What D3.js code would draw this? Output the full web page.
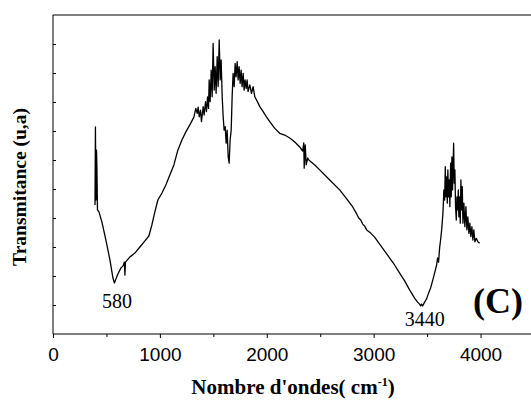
<html>
<head>
	<meta charset="utf-8">
	<title>IR spectrum (C)</title>
</head>

<style>
body{ margin:0; background:#fff; }
.frame{ fill:none; stroke:#000; stroke-width:1px; }
.spectre{ fill:none; stroke:#000; stroke-width:1.3px; stroke-linejoin:round; }
.tick-label{ font-family:"Liberation Sans", Arial, sans-serif; font-size:19px; }
.axis-title{ font-family:"Liberation Serif", "Times New Roman", serif; font-weight:bold; }
.pic{ font-family:"Liberation Serif", "Times New Roman", serif; font-size:20px; }
</style>

<body>

<script src="https://cdn.jsdelivr.net/npm/d3@7"></script>
<script>

var width = 531;
var height = 401;

// nombre d'ondes (cm-1)
var wn = [393,397,402,407,411,416,430,458,495,533,561,575,589,607,636,654,668,673,678,720,766,813,860,897,925,953,981,1019,1056,1093,1131,1168,1206,1243,1280,1318,
	1336,1349,1358,1368,1380,1389,1405,1414,1427,1436,1446,1455,1461,1470,1480,1489,1498,1508,1517,1526,1536,1545,1555,1564,1573,1583,1592,1601,1611,1620,1629,1639,1648,1657,1667,1676,1685,1695,1704,1713,1723,1732,1741,1751,1760,1769,1779,1788,1797,1807,1816,1825,1841,1857,1872,1888,1904,1919,1935,1966,1997,2028,2075,2121,
	2168,2215,2262,2308,2336,2346,2350,2360,2369,2383,2393,2449,2495,2589,2682,2748,2804,2841,2860,2879,2897,2916,2935,2972,3009,3056,3103,3150,3196,3243,3290,3336,3383,3411,3430,3439,3449,3458,3477,3495,3514,3533,3551,3570,3589,3598,3607,3617,3626,3636,
	3648,3657,3664,3670,3676,3682,3689,3694,3701,3707,3713,3720,3726,3732,3738,3748,3754,3760,3766,3773,3779,3785,3792,3797,3804,3810,3816,3822,3829,3835,3844,3853,3863,3872,3881,3891,3900,3909,3919,3928,3937,3947,3960,3975,3991];

// transmittance (u.a)
var trans = [4.45,7.14,4.62,6.34,5.72,4.28,4.21,3.86,3.24,2.55,1.93,1.76,1.90,2.07,2.28,2.34,2.48,2.03,2.48,2.66,2.79,3.00,3.21,3.38,3.76,4.21,4.62,4.86,5.14,5.48,5.83,6.34,6.69,6.97,7.21,7.48,
	7.78,7.61,7.82,7.49,7.72,7.32,7.84,7.55,8.01,7.67,8.18,7.78,8.76,8.01,9.10,8.18,10.02,8.41,9.22,8.30,9.56,8.53,10.14,8.76,9.45,8.18,7.49,7.03,7.15,6.58,7.03,6.11,5.89,6.69,7.03,8.18,8.99,8.53,9.33,8.87,9.39,8.76,9.22,8.64,9.10,8.53,8.99,8.41,8.76,8.47,8.76,8.36,8.59,8.30,8.53,8.18,8.07,7.96,7.84,7.67,7.49,7.32,7.09,6.92,
	6.86,6.76,6.62,6.45,6.31,6.59,5.72,6.52,5.83,6.07,6.00,5.83,5.66,5.31,4.97,4.66,4.38,4.14,4.00,3.93,3.79,3.72,3.59,3.48,3.34,3.10,2.86,2.62,2.38,2.10,1.83,1.52,1.24,1.10,1.03,0.97,1.03,0.97,1.10,1.21,1.41,1.59,1.83,2.10,2.38,2.62,2.48,2.97,3.24,3.59,
	4.16,4.97,4.62,5.77,4.73,5.42,4.51,5.66,4.73,5.31,4.39,5.89,4.73,6.11,4.97,6.58,5.20,5.66,4.39,3.93,4.73,4.28,4.97,4.04,4.73,3.82,5.31,4.28,5.08,3.82,4.51,3.70,4.39,3.59,4.04,3.47,3.82,3.36,3.70,3.24,3.59,3.18,3.30,3.18,3.13];

var xTicks = [0, 1000, 2000, 3000, 4000];
var xMinor = [500, 1500, 2500, 3500];
var yTicks = [1, 2, 3, 4, 5, 6, 7, 8, 9, 10];
var picLabels = ["580", "3440"];
var picPos = [580, 3440];

var padding = {left:53, right:-3, top:15, bottom:67};

var svg = d3.select("body").append("svg")
			.attr("width",width)
			.attr("height",height);

var x = d3.scaleLinear().domain([0, 4500]).range([padding.left, width - padding.right]);
var y = d3.scaleLinear().domain([0, 11]).range([height - padding.bottom, padding.top]);

var data = wn.map(function(d,i){ return [d, trans[i]]; });

// cadre : haut + gauche
svg.append("line").attr("class","frame")
	.attr("x1",x(0)).attr("x2",width).attr("y1",y(11)).attr("y2",y(11));

// axe x
var xAxis = svg.append("g")
	.attr("transform","translate(0," + y(0) + ")")
	.call(d3.axisBottom(x).tickValues(xTicks).tickSize(4).tickFormat(d3.format("d")));
xAxis.select(".domain").attr("d","M" + x(0) + ",0H" + width);
xAxis.selectAll("text").attr("class","tick-label").attr("dy","1.05em").attr("fill","#000");

svg.append("g")
	.attr("transform","translate(0," + y(0) + ")")
	.call(d3.axisBottom(x).tickValues(xMinor).tickSize(3).tickFormat(""))
	.select(".domain").remove();

// axe y (sans graduation)
var yAxis = svg.append("g")
	.attr("transform","translate(" + x(0) + ",0)")
	.call(d3.axisRight(y).tickValues(yTicks).tickSize(3).tickFormat(""));
yAxis.select(".domain").attr("d","M0," + y(11) + "V" + y(0));

svg.selectAll(".domain, .tick line").attr("stroke","#000").attr("stroke-width",1);

// spectre
var line = d3.line()
	.x(function(d){ return x(d[0]); })
	.y(function(d){ return y(d[1]); });

svg.append("path")
	.datum(data)
	.attr("class","spectre")
	.attr("d",line);

// pics
svg.selectAll(".pic")
	.data(picLabels)
	.enter()
	.append("text")
	.attr("class","pic")
	.attr("x",function(d,i){ return x(picPos[i]) + (i == 0 ? 2 : 4); })
	.attr("y",function(d,i){ return i == 0 ? 308 : 326; })
	.attr("text-anchor","middle")
	.text(function(d){ return d; });

svg.append("text")
	.attr("class","axis-title")
	.attr("x",498)
	.attr("y",313)
	.attr("text-anchor","middle")
	.style("font-size","36px")
	.text("(C)");

// titres des axes
var xt = svg.append("text")
	.attr("class","axis-title")
	.attr("x",293)
	.attr("y",394)
	.attr("text-anchor","middle")
	.style("font-size","21px");
xt.append("tspan").text("Nombre d'ondes( cm");
xt.append("tspan").attr("dy","-8").style("font-size","12px").text("-1");
xt.append("tspan").attr("dy","8").text(")");

svg.append("text")
	.attr("class","axis-title")
	.attr("transform","translate(26,187) rotate(-90)")
	.attr("text-anchor","middle")
	.style("font-size","19.5px")
	.text("Transmitance (u,a)");

</script>
</body>
</html>
